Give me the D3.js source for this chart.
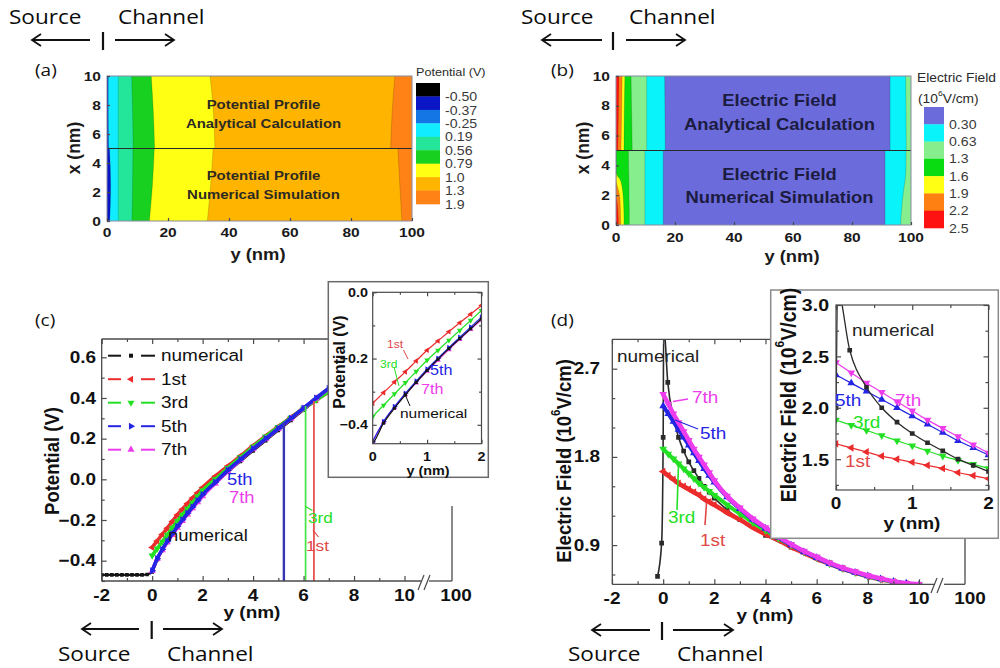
<!DOCTYPE html>
<html>
<head>
<meta charset="utf-8">
<script src="https://cdn.jsdelivr.net/npm/d3@7"></script>
<style>
  body { margin: 0; background: #fff; }
  svg { display: block; }
</style>
</head>
<body>
<svg id="fig" width="1000" height="668"></svg>
<script>
// ---------------- data ----------------
// (a) potential contour map: colour scale and band boundaries (y in nm) sampled along x (nm)
const potLegendColors = ['#000000', '#0a16c6', '#1476e4', '#12ecff', '#24e69a', '#18d020', '#ffff14', '#ffb400', '#ff8216'];
const potLegendLabels = ['-0.50', '-0.37', '-0.25', '0.19', '0.56', '0.79', '1.0', '1.3', '1.9'];
const potBandColorIdx = [1, 3, 4, 5, 6, 7, 8];
const potAnaX = [10, 7.5, 5];
const potAnaEdges = [
  [0.4, 0.4, 0.5], [3.7, 3.7, 3.7], [8.1, 8.4, 8.6], [14.5, 15.2, 15.6],
  [33.8, 34.9, 35.4], [94.4, 93.5, 93.0]
];
const potNumX = [5, 2.5, 0];
const potNumEdges = [
  [0.8, 1.2, 0.9], [3.7, 3.7, 3.7], [8.5, 8.4, 8.2], [15.5, 14.9, 13.9],
  [34.8, 34.0, 32.9], [95.4, 96.0, 96.7]
];

// (b) electric field contour map
const efLegendColors = ['#6b6bdc', '#08f4fa', '#86ee8c', '#0adc12', '#ffff14', '#ff8012', '#ff1212'];
const efLegendLabels = ['0.30', '0.63', '1.3', '1.6', '1.9', '2.2', '2.5'];
const efBandColorIdx = [6, 5, 4, 3, 2, 1, 0, 1, 2];
const efAnaX = [10, 7.5, 5];
const efAnaEdges = [
  [1.0, 0.8, 0.6], [2.1, 1.9, 1.7], [3.0, 2.8, 2.7], [5.1, 5.3, 5.5],
  [10.4, 10.4, 10.4], [16.5, 16.6, 16.7], [92.9, 92.9, 92.9], [98.2, 98.3, 98.4]
];
const efNumX = [5, 4, 3.5, 3, 2.5, 2, 1.5, 1, 0.5, 0];
const efNumEdges = [
  [0, 0, 0, 0, 0, 0, 0.4, 0.6, 0.75, 0.8],
  [0, 0, 0, 0, 0.6, 1.2, 1.4, 1.5, 1.55, 1.6],
  [0, 0, 0, 1.5, 2.1, 2.4, 2.55, 2.65, 2.7, 2.7],
  [4.2, 4.25, 4.3, 4.35, 4.4, 4.4, 4.45, 4.5, 4.5, 4.5],
  [9.8, 9.8, 9.8, 9.8, 9.8, 9.8, 9.8, 9.8, 9.8, 9.8],
  [16.0, 16.0, 16.0, 16.0, 16.0, 16.0, 16.0, 16.0, 16.0, 16.0],
  [91.2, 91.2, 91.2, 91.2, 91.2, 91.2, 91.2, 91.2, 91.2, 91.2],
  [98.3, 98.3, 98.2, 98.0, 97.6, 97.3, 97.0, 96.8, 96.6, 96.5]
];

// (c) channel potential (V) versus y (nm)
const potY = [0, 0.2, 0.4, 0.6, 0.8, 1.0, 1.2, 1.4, 1.6, 1.8, 2.0, 2.5, 3, 3.5, 4, 4.5, 5, 5.5, 6, 6.5, 7];
const pot1st = [-0.335, -0.303, -0.271, -0.240, -0.207, -0.175, -0.147, -0.119, -0.092, -0.066, -0.040, 0.015, 0.065, 0.115, 0.165, 0.213, 0.260, 0.305, 0.350, 0.390, 0.430];
const pot3rd = [-0.375, -0.341, -0.307, -0.273, -0.239, -0.205, -0.175, -0.145, -0.115, -0.085, -0.055, 0.000, 0.055, 0.108, 0.160, 0.210, 0.257, 0.303, 0.348, 0.390, 0.432];
const pot5th = [-0.450, -0.390, -0.345, -0.305, -0.268, -0.232, -0.199, -0.167, -0.136, -0.105, -0.075, -0.015, 0.045, 0.098, 0.150, 0.200, 0.250, 0.300, 0.350, 0.400, 0.448];
const pot7th = [-0.450, -0.392, -0.348, -0.309, -0.273, -0.238, -0.205, -0.173, -0.142, -0.112, -0.083, -0.020, 0.040, 0.095, 0.148, 0.198, 0.248, 0.298, 0.348, 0.398, 0.446];
const potNumY = [-2, -1.8, -1.6, -1.4, -1.2, -1.0, -0.8, -0.6, -0.4, -0.2, 0, 0.2, 0.4, 0.6, 0.8, 1.0, 1.2, 1.4, 1.6, 1.8, 2.0, 2.5, 3, 3.5, 4, 4.5, 5, 5.5, 6, 6.5, 7];
const potNum = [-0.47, -0.47, -0.47, -0.47, -0.47, -0.47, -0.47, -0.47, -0.47, -0.468, -0.455, -0.395, -0.350, -0.310, -0.272, -0.236, -0.202, -0.170, -0.140, -0.110, -0.080, -0.020, 0.035, 0.088, 0.140, 0.190, 0.240, 0.290, 0.340, 0.390, 0.440];
// end-of-curve drops for the analytical orders
const potDropName = ['5th', '3rd', '1st'];
const potDropAt = [5.22, 6.08, 6.41];
const potDropTop = [0.28, 0.36, 0.385];

// (d) electric field (10^6 V/cm) versus y (nm)
const efY = [0, 0.2, 0.4, 0.6, 0.8, 1.0, 1.2, 1.4, 1.6, 1.8, 2.0, 2.5, 3, 3.5, 4, 4.5, 5, 5.5, 6, 6.5, 7, 7.5, 8, 8.5, 9, 9.5, 10];
const ef1st = [1.65, 1.61, 1.57, 1.53, 1.50, 1.47, 1.44, 1.41, 1.37, 1.34, 1.31, 1.23, 1.16, 1.08, 1.01, 0.95, 0.88, 0.82, 0.76, 0.71, 0.66, 0.62, 0.58, 0.55, 0.525, 0.505, 0.49];
const ef3rd = [1.88, 1.83, 1.78, 1.73, 1.68, 1.63, 1.58, 1.53, 1.49, 1.45, 1.41, 1.31, 1.22, 1.13, 1.05, 0.97, 0.90, 0.83, 0.77, 0.71, 0.66, 0.62, 0.58, 0.55, 0.525, 0.505, 0.49];
const ef5th = [2.32, 2.24, 2.16, 2.08, 2.00, 1.92, 1.84, 1.76, 1.68, 1.61, 1.54, 1.39, 1.27, 1.16, 1.07, 0.98, 0.90, 0.83, 0.77, 0.71, 0.66, 0.62, 0.585, 0.555, 0.53, 0.51, 0.495];
const ef7th = [2.44, 2.34, 2.24, 2.15, 2.06, 1.97, 1.88, 1.80, 1.72, 1.64, 1.56, 1.40, 1.28, 1.17, 1.08, 0.99, 0.91, 0.84, 0.78, 0.72, 0.67, 0.63, 0.59, 0.56, 0.53, 0.51, 0.50];
const efNumY = [-0.22, -0.06, 0, 0.02, 0.18, 0.4, 0.6, 0.8, 1.0, 1.2, 1.4, 1.6, 1.8, 2.0, 2.5, 3, 4, 5, 6, 7, 8, 9, 10];
const efNum = [0.58, 0.92, 2.0, 3.15, 2.56, 2.2, 2.0, 1.86, 1.75, 1.66, 1.58, 1.5, 1.44, 1.38, 1.26, 1.16, 1.0, 0.88, 0.77, 0.67, 0.59, 0.53, 0.49];

// tick values
const mapXTicks = [0, 20, 40, 60, 80, 100];
const mapYTicks = [0, 2, 4, 6, 8, 10];
const lineXTicks = [-2, 0, 2, 4, 6, 8, 10];
const potYTicks = [-0.4, -0.2, 0.0, 0.2, 0.4, 0.6];
const potInsetYTicks = [-0.4, -0.2, 0.0];
const efYTicks = [0.9, 1.8, 2.7];
const efInsetYTicks = [1.5, 2.0, 2.5, 3.0];
const insetXTicks = [0, 1, 2];

// ---------------- helpers ----------------
const svg = d3.select('#fig');
const FONT = '"Liberation Sans", Arial, sans-serif';
const OPEN = '"Open Sans", "DejaVu Sans", sans-serif';
const SX = 1.15;
const FR = '#4a4a4a';
const COL = { numerical: '#141414', '1st': '#ec2c2c', '3rd': '#24e024', '5th': '#2424e4', '7th': '#ec3cec' };

function T(g, x, y, parts, o = {}) {
  const sx = o.sx ?? SX, size = o.size || 14;
  const tf = o.rot ? `translate(${x},${y}) rotate(${o.rot}) scale(1,${sx})` : `translate(${x},${y}) scale(${sx},1)`;
  const t = g.append('text').attr('transform', tf)
    .attr('font-family', o.family || FONT).attr('font-size', size)
    .attr('font-weight', o.weight || 'normal').attr('fill', o.fill || '#111')
    .attr('text-anchor', o.anchor || 'start').attr('dominant-baseline', o.base || 'central');
  const list = Array.isArray(parts) ? parts : [[parts]];
  let up = false;
  list.forEach(([s, sup]) => {
    const ts = t.append('tspan').text(s);
    if (sup) { ts.attr('font-size', size * 0.62).attr('dy', -size * 0.38); up = true; }
    else if (up) { ts.attr('dy', size * 0.38); up = false; }
  });
  return t;
}

function line(g, x1, y1, x2, y2, stroke = FR, w = 1.3) {
  return g.append('line').attr('x1', x1).attr('y1', y1).attr('x2', x2).attr('y2', y2)
    .attr('stroke', stroke).attr('stroke-width', w);
}

function arrow(g, x1, x2, y, head) {
  line(g, x1, y, x2, y, '#111', 1.8);
  const hx = head === 'left' ? x1 : x2, s = head === 'left' ? 1 : -1;
  g.append('path').attr('d', `M${hx + s * 9},${y - 6}L${hx},${y}L${hx + s * 9},${y + 6}`)
    .attr('fill', 'none').attr('stroke', '#111').attr('stroke-width', 1.8);
}

function sourceChannel(o) {
  const g = svg.append('g');
  T(g, o.sx, o.ty, 'Source', { family: OPEN, size: 20.5, base: 'alphabetic', sx: 1.1, fill: '#0c0c0c' });
  T(g, o.cx, o.ty, 'Channel', { family: OPEN, size: 20.5, base: 'alphabetic', sx: 1.1, fill: '#0c0c0c' });
  arrow(g, o.l1, o.l2, o.ay, 'left');
  line(g, o.bar, o.ay - 8, o.bar, o.ay + 10, '#111', 2.2);
  arrow(g, o.r1, o.r2, o.ay, 'right');
}

const SHAPE = {
  square: [d3.symbolSquare, 0], up: [d3.symbolTriangle, 0], right: [d3.symbolTriangle, 90],
  down: [d3.symbolTriangle, 180], left: [d3.symbolTriangle, 270]
};
function marker(g, x, y, shape, size, color) {
  const [sym, rot] = SHAPE[shape];
  g.append('path').attr('d', d3.symbol(sym, size)())
    .attr('transform', `translate(${x},${y}) rotate(${rot})`).attr('fill', color);
}

function series(g, x, y, xs, vs, color, shape, msize, w) {
  const pts = xs.map((v, i) => [v, vs[i]]);
  g.append('path').datum(pts).attr('fill', 'none').attr('stroke', color).attr('stroke-width', w)
    .attr('stroke-linejoin', 'round')
    .attr('d', d3.line().x(d => x(d[0])).y(d => y(d[1])).curve(d3.curveMonotoneX));
  pts.forEach(d => marker(g, x(d[0]), y(d[1]), shape, msize, color));
}

function ticks(g, axisFn, scale, vals, len, tr) {
  const a = g.append('g').attr('transform', tr)
    .call(axisFn(scale).tickValues(vals).tickSizeInner(-len).tickSizeOuter(0).tickFormat(''));
  a.select('.domain').remove();
  a.selectAll('line').attr('stroke', FR).attr('stroke-width', 1.2);
}

function clip(id, x, y, w, h) {
  svg.append('clipPath').attr('id', id).append('rect').attr('x', x).attr('y', y).attr('width', w).attr('height', h);
  return `url(#${id})`;
}

// painter's fill of contour bands: each band spans from the left edge to its right boundary
function contourHalf(g, h, v, xs, edges, colors) {
  const bounds = [...edges, xs.map(() => 100)];
  for (let i = colors.length - 1; i >= 0; i--) {
    const pts = xs.map((xv, k) => [xv, bounds[i][k]]);
    g.append('path').attr('fill', colors[i])
      .attr('d', d3.area().curve(d3.curveMonotoneY).y(d => v(d[0])).x0(h(0)).x1(d => h(d[1]))(pts));
  }
  edges.forEach(e => {
    const pts = xs.map((xv, k) => [xv, e[k]]);
    g.append('path').attr('fill', 'none').attr('stroke', 'rgba(0,0,0,0.22)').attr('stroke-width', 0.7)
      .attr('d', d3.line().curve(d3.curveMonotoneY).y(d => v(d[0])).x(d => h(d[1]))(pts));
  });
}

function mapPanel(o) {
  const g = svg.append('g');
  const h = d3.scaleLinear([0, 100], [o.x0, o.x1]);
  const v = d3.scaleLinear([0, 10], [o.y0, o.y1]);
  const cols = o.bandIdx.map(i => o.legendColors[i]);
  const cg = g.append('g').attr('clip-path', clip(o.id, o.x0, o.y1, o.x1 - o.x0, o.y0 - o.y1));
  contourHalf(cg, h, v, o.anaX, o.anaEdges, cols);
  contourHalf(cg, h, v, o.numX, o.numEdges, cols);
  line(g, o.x0, v(5), o.x1, v(5), '#2a2a2a', 1.2);
  g.append('rect').attr('x', o.x0).attr('y', o.y1).attr('width', o.x1 - o.x0).attr('height', o.y0 - o.y1)
    .attr('fill', 'none').attr('stroke', '#8a8aa0').attr('stroke-width', 1);
  ticks(g, d3.axisBottom, h, mapXTicks, 3, `translate(0,${o.y0})`);
  ticks(g, d3.axisLeft, v, mapYTicks, 3, `translate(${o.x0},0)`);
  mapXTicks.forEach(t => T(g, h(t), o.xlabY, String(t), { size: 13.5, weight: 'bold', anchor: 'middle', fill: '#1a1a1a' }));
  mapYTicks.forEach(t => T(g, o.x0 - 6, v(t), String(t), { size: 13.5, weight: 'bold', anchor: 'end', fill: '#1a1a1a' }));
  T(g, o.titleX[0], o.titleX[1], 'y (nm)', { size: 16, weight: 'bold', anchor: 'middle', fill: '#1a1a1a' });
  T(g, o.titleY[0], o.titleY[1], 'x (nm)', { size: 17.5, weight: 'bold', anchor: 'middle', rot: -90, sx: 1.1, fill: '#1a1a1a' });
  const cx = (o.x0 + o.x1) / 2 + o.textDx;
  o.texts.forEach(([s, yy]) => T(g, cx, yy, s, { size: o.textSize, weight: 'bold', anchor: 'middle', fill: o.textFill }));
  // colour bar
  const n = o.legendColors.length, bh = (o.bar.y1 - o.bar.y0) / n;
  o.legendColors.forEach((c, i) => g.append('rect').attr('x', o.bar.x).attr('y', o.bar.y0 + i * bh)
    .attr('width', o.bar.w).attr('height', bh + 0.3).attr('fill', c));
  o.legendLabels.forEach((s, i) => T(g, o.bar.x + o.bar.w + 5, o.bar.y0 + (i + 1) * bh, s, { size: 12.3, fill: '#3a3a3a' }));
  o.legendTitle.forEach(([parts, x, y]) => T(g, x, y, parts, { size: o.legendTitleSize, fill: '#2a2a2a' }));
}

// ---------------- headers / footers ----------------
sourceChannel({ sx: 9, cx: 118, ty: 24, l1: 32, l2: 90, bar: 103, r1: 115, r2: 174, ay: 40 });
sourceChannel({ sx: 521, cx: 629, ty: 24, l1: 542, l2: 602, bar: 613, r1: 626, r2: 685, ay: 40 });
sourceChannel({ sx: 58, cx: 167, ty: 661, l1: 82, l2: 139, bar: 151.7, r1: 163, r2: 222, ay: 629 });
sourceChannel({ sx: 568, cx: 677, ty: 661, l1: 592, l2: 650, bar: 662, r1: 673, r2: 733, ay: 630 });

[['(a)', 35, 70], ['(b)', 551, 70], ['(c)', 35, 320], ['(d)', 551, 320]]
  .forEach(([s, x, y]) => T(svg, x, y, s, { family: OPEN, size: 16.5, fill: '#111' }));

// ---------------- (a) ----------------
mapPanel({
  id: 'clipA', x0: 107, x1: 412, y0: 221, y1: 76, xlabY: 232,
  titleX: [258, 254], titleY: [73, 148],
  legendColors: potLegendColors, legendLabels: potLegendLabels, bandIdx: potBandColorIdx,
  anaX: potAnaX, anaEdges: potAnaEdges, numX: potNumX, numEdges: potNumEdges,
  texts: [['Potential Profile', 104], ['Analytical Calculation', 123], ['Potential Profile', 175], ['Numerical Simulation', 194]],
  textSize: 13, textFill: '#2c2a22', textDx: 4,
  bar: { x: 416, w: 24, y0: 83, y1: 204 },
  legendTitle: [['Potential (V)', 416, 72]], legendTitleSize: 11
});

// ---------------- (b) ----------------
mapPanel({
  id: 'clipB', x0: 616, x1: 911, y0: 225, y1: 76, xlabY: 237,
  titleX: [792, 256], titleY: [582, 148],
  legendColors: efLegendColors, legendLabels: efLegendLabels, bandIdx: efBandColorIdx,
  anaX: efAnaX, anaEdges: efAnaEdges, numX: efNumX, numEdges: efNumEdges,
  texts: [['Electric Field', 100], ['Analytical Calculation', 124], ['Electric Field', 174], ['Numerical Simulation', 197]],
  textSize: 16, textFill: '#1c1c40', textDx: 16,
  bar: { x: 924, w: 20, y0: 107, y1: 228 },
  legendTitle: [['Electric Field', 917, 77], [[['(10'], ['6', true], ['V/cm)']], 918, 98]], legendTitleSize: 12
});

// ---------------- (c) ----------------
(function () {
  const g = svg.append('g');
  const X0 = 101.7, X1 = 452, Y0 = 581, Y1 = 339;
  const x = d3.scaleLinear([-2, 10], [X0, 404.5]);
  const y = d3.scaleLinear([-0.5, 0.69], [Y0, Y1]);
  const xFar = 452; // position of the 100 nm tick beyond the axis break

  const dg = g.append('g').attr('clip-path', clip('clipC', X0, Y1, X1 - X0, Y0 - Y1));
  series(dg, x, y, potNumY, potNum, COL.numerical, 'square', 13, 2.2);
  series(dg, x, y, potY, pot1st, COL['1st'], 'left', 22, 3.6);
  series(dg, x, y, potY, pot3rd, COL['3rd'], 'down', 22, 3.6);
  series(dg, x, y, potY, pot7th, COL['7th'], 'up', 22, 3.6);
  series(dg, x, y, potY, pot5th, COL['5th'], 'right', 22, 3.6);
  const dropCol = { '5th': '#3434b4', '3rd': '#44e444', '1st': '#e84848' };
  potDropName.forEach((nm, i) => line(dg, x(potDropAt[i]), y(potDropTop[i]), x(potDropAt[i]), Y0,
    dropCol[nm], nm === '5th' ? 2.4 : 1.7));

  // frame with axis break
  line(g, X0, Y1, X0, Y0);
  line(g, X0, Y0, 421, Y0);
  line(g, 429, Y0, X1, Y0);
  line(g, X1, 506, X1, Y0);
  line(g, 418, 590, 424, 575, FR, 1.2);
  line(g, 424, 590, 430, 575, FR, 1.2);

  ticks(g, d3.axisBottom, x, lineXTicks, 5, `translate(0,${Y0})`);
  ticks(g, d3.axisBottom, x, [-1, 1, 3, 5, 7, 9], 3, `translate(0,${Y0})`);
  ticks(g, d3.axisTop, x, [-2, 0, 2, 4, 6, 8], 5, `translate(0,${Y1})`);
  ticks(g, d3.axisTop, x, [-1, 1, 3, 5, 7], 3, `translate(0,${Y1})`);
  ticks(g, d3.axisLeft, y, potYTicks, 5, `translate(${X0},0)`);
  ticks(g, d3.axisLeft, y, [-0.5, -0.3, -0.1, 0.1, 0.3, 0.5], 3, `translate(${X0},0)`);

  lineXTicks.forEach(t => T(g, x(t), 595, String(t), { size: 16.5, weight: 'bold', anchor: 'middle' }));
  T(g, xFar + 4, 595, '100', { size: 16.5, weight: 'bold', anchor: 'middle' });
  potYTicks.forEach(t => T(g, 96, y(t), d3.format('.1f')(t), { size: 16.5, weight: 'bold', anchor: 'end' }));
  T(g, 252, 612, 'y (nm)', { size: 16.5, weight: 'bold', anchor: 'middle' });
  T(g, 52, 461, 'Potential (V)', { size: 18.5, weight: 'bold', anchor: 'middle', rot: -90, sx: 1.1 });

  // legend
  const leg = [['numerical', 'square'], ['1st', 'left'], ['3rd', 'down'], ['5th', 'right'], ['7th', 'up']];
  leg.forEach(([nm, sh], i) => {
    const yy = 355.7 + i * 23.5, c = COL[nm];
    line(g, 108, yy, 121, yy, c, 2);
    line(g, 141, yy, 155, yy, c, 2);
    marker(g, 131, yy, sh, nm === 'numerical' ? 16 : 22, c);
    T(g, 161, yy, nm, { size: 16.5 });
  });

  // curve annotations
  T(g, 227, 479, '5th', { size: 16, fill: COL['5th'] });
  T(g, 229, 497, '7th', { size: 16, fill: COL['7th'] });
  T(g, 168, 535, 'numerical', { size: 16, fill: '#111' });
  T(g, 308, 517, '3rd', { size: 15, fill: COL['3rd'] });
  T(g, 306, 545, '1st', { size: 15, fill: '#e04848' });
  g.append('path').attr('d', 'M305.5,506.5L312.5,510.5').attr('stroke', COL['3rd']).attr('stroke-width', 1.2);
  g.append('path').attr('d', 'M313,530L318.5,537').attr('stroke', '#e04848').attr('stroke-width', 1.2);

  // inset
  const ig = svg.append('g');
  ig.append('rect').attr('x', 328.3).attr('y', 281.7).attr('width', 160).attr('height', 195.6)
    .attr('fill', '#fff').attr('stroke', '#6a6a6a').attr('stroke-width', 1.5);
  const IX0 = 372.7, IX1 = 481.5, IY0 = 443.7, IY1 = 292.3;
  const xi = d3.scaleLinear([0, 2], [IX0, IX1]);
  const yi = d3.scaleLinear([-0.457, 0], [IY0, IY1]);
  const idg = ig.append('g').attr('clip-path', clip('clipCi', IX0, IY1, IX1 - IX0, IY0 - IY1));
  series(idg, xi, yi, potY, pot1st, COL['1st'], 'left', 14, 1.2);
  series(idg, xi, yi, potY, pot3rd, COL['3rd'], 'down', 14, 1.2);
  series(idg, xi, yi, potY, pot7th, COL['7th'], 'up', 14, 1.2);
  series(idg, xi, yi, potY, pot5th, COL['5th'], 'right', 14, 1.2);
  series(idg, xi, yi, potNumY, potNum, COL.numerical, 'square', 10, 1.2);
  ig.append('rect').attr('x', IX0).attr('y', IY1).attr('width', IX1 - IX0).attr('height', IY0 - IY1)
    .attr('fill', 'none').attr('stroke', FR).attr('stroke-width', 1.2);
  ticks(ig, d3.axisBottom, xi, insetXTicks, 4, `translate(0,${IY0})`);
  ticks(ig, d3.axisBottom, xi, [0.5, 1.5], 2.5, `translate(0,${IY0})`);
  ticks(ig, d3.axisTop, xi, insetXTicks, 4, `translate(0,${IY1})`);
  ticks(ig, d3.axisTop, xi, [0.5, 1.5], 2.5, `translate(0,${IY1})`);
  ticks(ig, d3.axisLeft, yi, potInsetYTicks, 4, `translate(${IX0},0)`);
  ticks(ig, d3.axisLeft, yi, [-0.3, -0.1], 2.5, `translate(${IX0},0)`);
  ticks(ig, d3.axisRight, yi, potInsetYTicks, 4, `translate(${IX1},0)`);
  ticks(ig, d3.axisRight, yi, [-0.3, -0.1], 2.5, `translate(${IX1},0)`);
  insetXTicks.forEach(t => T(ig, xi(t), 456.5, String(t), { size: 12.5, weight: 'bold', anchor: 'middle' }));
  potInsetYTicks.forEach(t => T(ig, 368, yi(t), d3.format('.1f')(t), { size: 12.5, weight: 'bold', anchor: 'end' }));
  T(ig, 428, 470.5, 'y (nm)', { size: 12.5, weight: 'bold', anchor: 'middle' });
  T(ig, 338.5, 362, 'Potential (V)', { size: 16, weight: 'bold', anchor: 'middle', rot: -90, sx: 1.05 });
  T(ig, 387, 344, '1st', { size: 10.5, fill: '#e04848' });
  T(ig, 380, 364, '3rd', { size: 10.5, fill: COL['3rd'] });
  T(ig, 430, 369.5, '5th', { size: 14, fill: COL['5th'] });
  T(ig, 421, 388, '7th', { size: 14, fill: COL['7th'] });
  T(ig, 400, 413.5, 'numerical', { size: 13.5, fill: '#111' });
  ig.append('path').attr('d', 'M403.5,350L408,359').attr('stroke', '#e04848').attr('stroke-width', 1);
  ig.append('path').attr('d', 'M394,367L399,386').attr('stroke', COL['3rd']).attr('stroke-width', 1);
  ig.append('path').attr('d', 'M410,406L404,392').attr('stroke', '#111').attr('stroke-width', 1);
  // top frame of the main plot, up to the inset
  line(g, X0, Y1, 328.3, Y1);
})();

// ---------------- (d) ----------------
(function () {
  const g = svg.append('g');
  const X0 = 612.3, X1 = 965, Y0 = 584.3, Y1 = 339.3;
  const x = d3.scaleLinear([-2, 10], [612, 919]);
  const y = d3.scaleLinear([0.5, 3.0], [Y0, Y1]);

  const dg = g.append('g').attr('clip-path', clip('clipD', X0, Y1, X1 - X0, Y0 - Y1));
  series(dg, x, y, efNumY, efNum, '#2a2a2a', 'square', 22, 1.6);
  series(dg, x, y, efY, ef1st, COL['1st'], 'left', 26, 4.5);
  series(dg, x, y, efY, ef3rd, COL['3rd'], 'down', 26, 4);
  series(dg, x, y, efY, ef5th, COL['5th'], 'up', 26, 4);
  series(dg, x, y, efY, ef7th, COL['7th'], 'down', 26, 4.5);

  line(g, X0, Y1, X0, Y0);
  line(g, X0, Y1, 770.7, Y1);
  line(g, X0, Y0, 934, Y0);
  line(g, 944, Y0, X1, Y0);
  line(g, X1, 538, X1, Y0);
  line(g, 931, 593, 937, 578, FR, 1.2);
  line(g, 937, 593, 943, 578, FR, 1.2);

  ticks(g, d3.axisBottom, x, lineXTicks, 5, `translate(0,${Y0})`);
  ticks(g, d3.axisBottom, x, [-1, 1, 3, 5, 7, 9], 3, `translate(0,${Y0})`);
  ticks(g, d3.axisTop, x, [-2, 0, 2, 4], 5, `translate(0,${Y1})`);
  ticks(g, d3.axisTop, x, [-1, 1, 3], 3, `translate(0,${Y1})`);
  ticks(g, d3.axisLeft, y, efYTicks, 5, `translate(${X0},0)`);
  ticks(g, d3.axisLeft, y, [0.6, 1.2, 1.5, 2.1, 2.4], 3, `translate(${X0},0)`);

  lineXTicks.forEach(t => T(g, x(t), 598, String(t), { size: 16.5, weight: 'bold', anchor: 'middle' }));
  T(g, 970, 598, '100', { size: 16.5, weight: 'bold', anchor: 'middle' });
  efYTicks.forEach(t => T(g, 600, y(t), d3.format('.1f')(t), { size: 16.5, weight: 'bold', anchor: 'end' }));
  T(g, 765, 615, 'y (nm)', { size: 16.5, weight: 'bold', anchor: 'middle' });
  T(g, 563.5, 461, [['Electric Field (10'], ['6', true], ['V/cm)']], { size: 18.5, weight: 'bold', anchor: 'middle', rot: -90, sx: 1.1 });

  T(g, 617, 356, 'numerical', { size: 16.5, fill: '#222' });
  T(g, 692, 397, '7th', { size: 16.5, fill: COL['7th'] });
  T(g, 700, 433, '5th', { size: 16.5, fill: COL['5th'] });
  T(g, 668, 517, '3rd', { size: 16.5, fill: COL['3rd'] });
  T(g, 700, 540, '1st', { size: 16.5, fill: '#e04848' });
  g.append('path').attr('d', 'M673,401.5L688,399').attr('stroke', COL['7th']).attr('stroke-width', 1.3);
  g.append('path').attr('d', 'M675,420L698,429').attr('stroke', COL['5th']).attr('stroke-width', 1.3);
  g.append('path').attr('d', 'M677,510L678.5,465').attr('stroke', COL['3rd']).attr('stroke-width', 1.6);
  g.append('path').attr('d', 'M705,525L706.5,503').attr('stroke', '#e04848').attr('stroke-width', 1.6);

  // inset
  const ig = svg.append('g');
  ig.append('rect').attr('x', 770.7).attr('y', 290).attr('width', 227.6).attr('height', 248.3)
    .attr('fill', '#fff').attr('stroke', '#8a8a8a').attr('stroke-width', 1.5);
  const IX0 = 836, IX1 = 988.5, IY0 = 490, IY1 = 305;
  const xi = d3.scaleLinear([0, 2], [IX0, IX1]);
  const yi = d3.scaleLinear([1.2, 3.0], [IY0, IY1]);
  const idg = ig.append('g').attr('clip-path', clip('clipDi', IX0, IY1, IX1 - IX0, IY0 - IY1));
  series(idg, xi, yi, efY, ef1st, COL['1st'], 'left', 26, 1.2);
  series(idg, xi, yi, efY, ef3rd, COL['3rd'], 'down', 26, 1.2);
  series(idg, xi, yi, efY, ef5th, COL['5th'], 'up', 26, 1.2);
  series(idg, xi, yi, efY, ef7th, COL['7th'], 'down', 26, 1.2);
  series(idg, xi, yi, efNumY, efNum, '#2a2a2a', 'square', 22, 1.3);
  ig.append('rect').attr('x', IX0).attr('y', IY1).attr('width', IX1 - IX0).attr('height', IY0 - IY1)
    .attr('fill', 'none').attr('stroke', FR).attr('stroke-width', 1.2);
  ticks(ig, d3.axisBottom, xi, insetXTicks, 5, `translate(0,${IY0})`);
  ticks(ig, d3.axisBottom, xi, [0.5, 1.5], 3, `translate(0,${IY0})`);
  ticks(ig, d3.axisTop, xi, insetXTicks, 5, `translate(0,${IY1})`);
  ticks(ig, d3.axisTop, xi, [0.5, 1.5], 3, `translate(0,${IY1})`);
  ticks(ig, d3.axisLeft, yi, efInsetYTicks, 5, `translate(${IX0},0)`);
  ticks(ig, d3.axisLeft, yi, [1.25, 1.75, 2.25, 2.75], 3, `translate(${IX0},0)`);
  ticks(ig, d3.axisRight, yi, efInsetYTicks, 5, `translate(${IX1},0)`);
  ticks(ig, d3.axisRight, yi, [1.25, 1.75, 2.25, 2.75], 3, `translate(${IX1},0)`);
  insetXTicks.forEach(t => T(ig, xi(t), 503.5, String(t), { size: 16.5, weight: 'bold', anchor: 'middle' }));
  efInsetYTicks.forEach(t => T(ig, 829, yi(t), d3.format('.1f')(t), { size: 17, weight: 'bold', anchor: 'end' }));
  T(ig, 912, 523, 'y (nm)', { size: 16.5, weight: 'bold', anchor: 'middle' });
  T(ig, 788, 395, [['Electric Field (10'], ['6', true], ['V/cm)']], { size: 19.5, weight: 'bold', anchor: 'middle', rot: -90, sx: 1.1 });
  T(ig, 852, 330, 'numerical', { size: 16.5, fill: '#222' });
  T(ig, 895, 400, '7th', { size: 16.5, fill: COL['7th'] });
  T(ig, 835, 400, '5th', { size: 16.5, fill: COL['5th'] });
  T(ig, 853, 422, '3rd', { size: 16.5, fill: COL['3rd'] });
  T(ig, 845, 461, '1st', { size: 16.5, fill: '#e04848' });
})();
</script>
</body>
</html>
